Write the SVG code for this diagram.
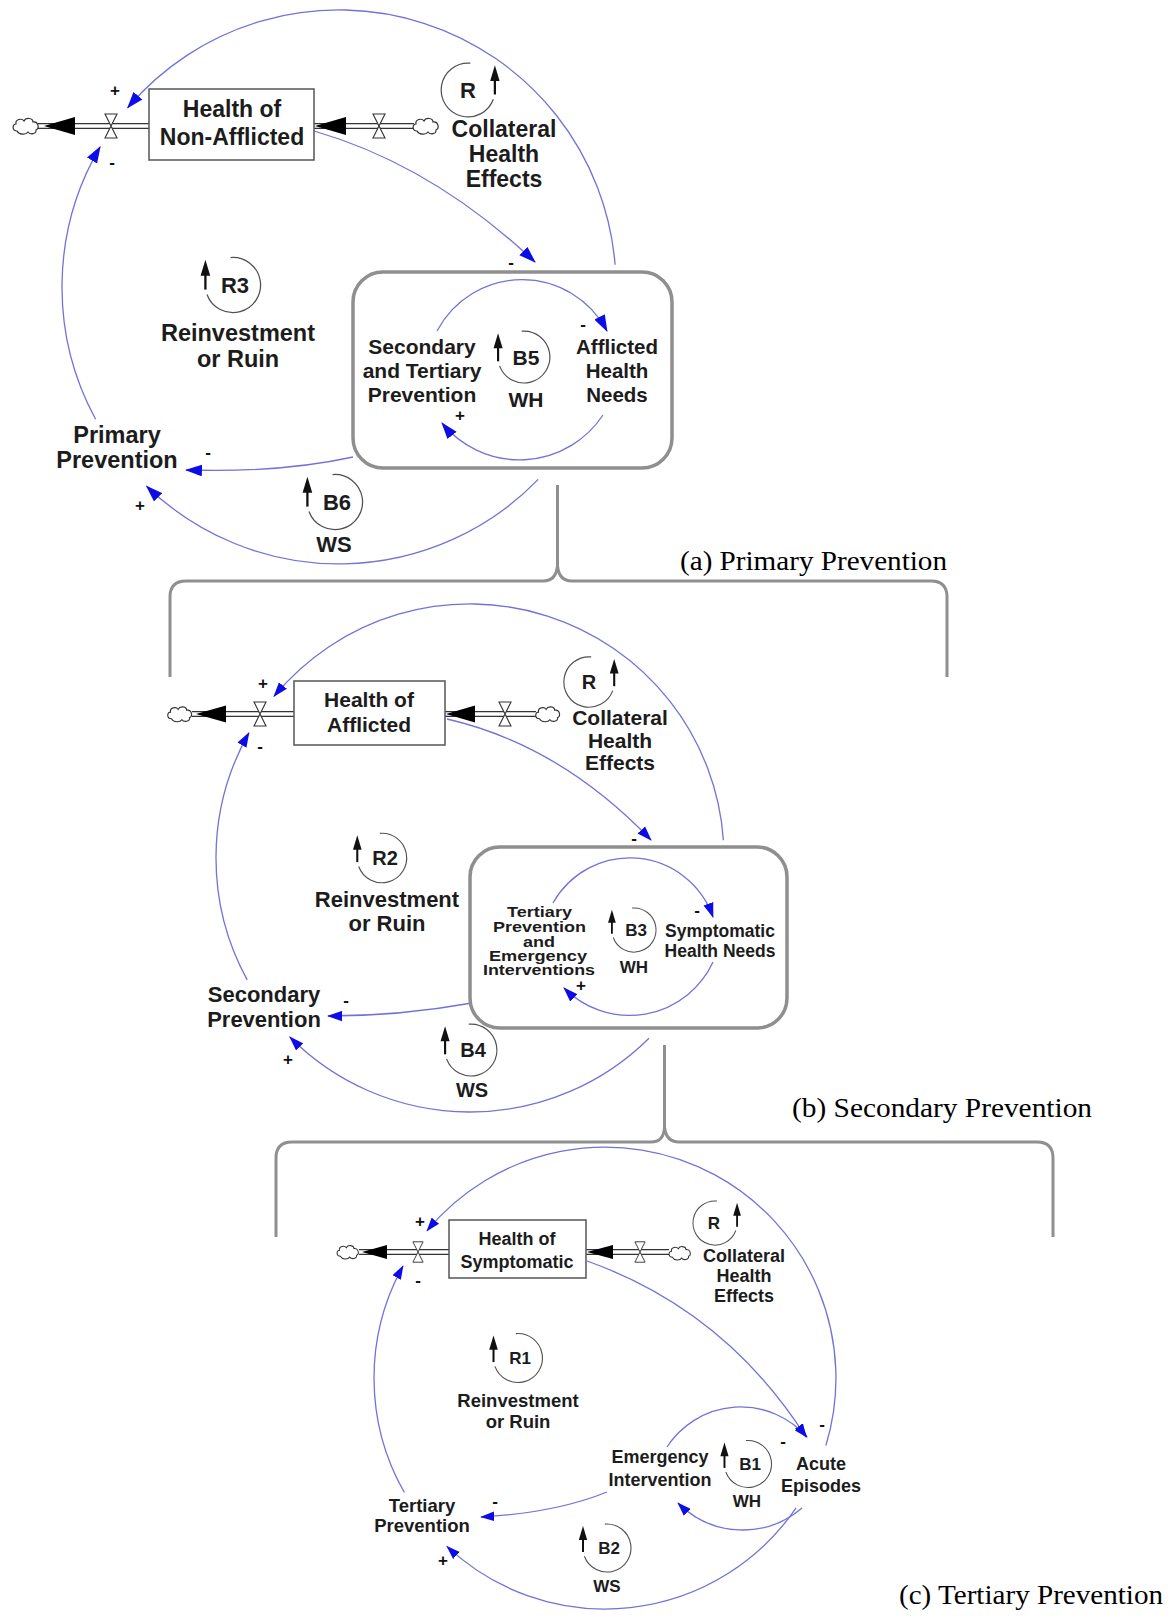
<svg xmlns="http://www.w3.org/2000/svg" xmlns:xlink="http://www.w3.org/1999/xlink" width="1173" height="1621" viewBox="0 0 1173 1621">
  <defs>
    <style>
      .lbl { font-family: "Liberation Sans", Arial, sans-serif; font-weight: bold; fill: #1c1c1c; text-anchor: middle; }
      .pol { font-family: "Liberation Sans", Arial, sans-serif; font-weight: bold; fill: #111; text-anchor: middle; font-size: 17px; }
      .cap { font-family: "Liberation Serif", "Times New Roman", serif; font-size: 28px; fill: #000; }
      .link { fill: none; stroke: #7272d8; stroke-width: 1.3; }
      .loop { fill: none; stroke: #505050; stroke-width: 1.1; }
      .frame { fill: none; stroke: #8f8f8f; stroke-width: 3.5; }
      .brace { fill: none; stroke: #8f8f8f; stroke-width: 3; }
      .stock { fill: #fff; stroke: #555; stroke-width: 1.5; }
      .pipeO { fill: none; stroke: #333; stroke-width: 6; }
      .pipeI { fill: none; stroke: #fff; stroke-width: 3.4; }
      .flowhead { fill: #000; }
    </style>
    <!-- blue link arrowheads, three sizes (one per panel) -->
    <marker id="ahA" viewBox="0 0 16 11" refX="15" refY="5.5" markerWidth="17" markerHeight="12" markerUnits="userSpaceOnUse" orient="auto">
      <path d="M0 0 L16 5.5 L0 11 Z" fill="#0c0ce6"/>
    </marker>
    <marker id="ahB" viewBox="0 0 16 11" refX="15" refY="5.5" markerWidth="15" markerHeight="11" markerUnits="userSpaceOnUse" orient="auto">
      <path d="M0 0 L16 5.5 L0 11 Z" fill="#0c0ce6"/>
    </marker>
    <marker id="ahC" viewBox="0 0 16 11" refX="15" refY="5.5" markerWidth="14" markerHeight="10" markerUnits="userSpaceOnUse" orient="auto">
      <path d="M0 0 L16 5.5 L0 11 Z" fill="#0c0ce6"/>
    </marker>
    <!-- source / sink cloud -->
    <path id="cloud" d="M-9 5 C-14 5 -14 -2 -10 -2 C-11 -7 -4 -8 -2 -5 C0 -9 7 -8 7 -4 C12 -5 14 2 10 4 C11 8 4 9 2 6 C0 9 -7 9 -9 5 Z" fill="#fff" stroke="#333" stroke-width="1.2"/>
    <!-- flow valve (hourglass) -->
    <path id="valve" d="M-6 -12 H6 L-6 12 H6 Z" fill="#fff" stroke="#333" stroke-width="1.1"/>
    <!-- loop marker, arrow on the left -->
    <g id="loopL">
      <path class="loop" d="M-2.1 -23.9 A24 24 0 1 1 -22.6 8.2"/>
      <path d="M-24 4 V-9" stroke="#111" stroke-width="2"/>
      <path d="M-24 -22 L-28.2 -8 L-19.8 -8 Z" fill="#111"/>
    </g>
    <!-- loop marker, arrow on the right -->
    <g id="loopR">
      <use xlink:href="#loopL" transform="scale(-1,1)"/>
    </g>
  </defs>

  <rect x="0" y="0" width="1173" height="1621" fill="#fff"/>

  <!-- ===================== connectors ===================== -->
  <g id="connectors">
    <!-- panel (a) -->
    <path class="link" d="M615.1 264.8 A277 277 0 0 0 127.7 107.8" marker-end="url(#ahA)"/>
    <path class="link" d="M95.6 419.2 A277 277 0 0 1 100.1 146.8" marker-end="url(#ahA)"/>
    <path class="link" d="M538.2 479.4 A277 277 0 0 1 146.6 486.2" marker-end="url(#ahA)"/>
    <path class="link" d="M314 131 Q432 165 535 262" marker-end="url(#ahA)"/>
    <path class="link" d="M353 457 Q280 473 186 470" marker-end="url(#ahA)"/>
    <path class="link" d="M437 331 A96 96 0 0 1 607 331" marker-end="url(#ahA)"/>
    <path class="link" d="M603 415 A100 100 0 0 1 442 423" marker-end="url(#ahA)"/>

    <!-- panel (b) -->
    <path class="link" d="M723.4 840.3 A254 254 0 0 0 274.0 696.4" marker-end="url(#ahB)"/>
    <path class="link" d="M247.2 979.9 A254 254 0 0 1 248.9 732.9" marker-end="url(#ahB)"/>
    <path class="link" d="M649 1038.2 A254 254 0 0 1 289.8 1037" marker-end="url(#ahB)"/>
    <path class="link" d="M447 719 Q560 745 651 840" marker-end="url(#ahB)"/>
    <path class="link" d="M472 1003 Q400 1016 328 1016" marker-end="url(#ahB)"/>
    <path class="link" d="M553 903 A88 88 0 0 1 713 917" marker-end="url(#ahB)"/>
    <path class="link" d="M713 962 A92 92 0 0 1 564 988" marker-end="url(#ahB)"/>

    <!-- panel (c) -->
    <path class="link" d="M825.9 1445.5 A231 231 0 0 0 427.0 1230.8" marker-end="url(#ahC)"/>
    <path class="link" d="M404.4 1492.5 A231 231 0 0 1 403.0 1266.0" marker-end="url(#ahC)"/>
    <path class="link" d="M796.1 1507.8 A231 231 0 0 1 446.9 1546.4" marker-end="url(#ahC)"/>
    <path class="link" d="M587 1261 Q725 1310 806 1437" marker-end="url(#ahC)"/>
    <path class="link" d="M667 1447 A88 88 0 0 1 807 1437" marker-end="url(#ahC)"/>
    <path class="link" d="M802 1508 A91 91 0 0 1 678 1503" marker-end="url(#ahC)"/>
    <path class="link" d="M607 1492 Q555 1513 481 1517" marker-end="url(#ahC)"/>
  </g>

  <!-- ===================== panel (a): primary prevention ===================== -->
  <g id="a-outflow">
    <path class="pipeO" d="M38 126 H149"/>
    <path class="pipeI" d="M38 126 H149"/>
    <polygon class="flowhead" points="44,126 75,117 75,135"/>
    <use xlink:href="#cloud" transform="translate(26,126)"/>
    <use xlink:href="#valve" transform="translate(111,126)"/>
  </g>
  <g id="a-inflow">
    <path class="pipeO" d="M314 126 H414"/>
    <path class="pipeI" d="M314 126 H414"/>
    <polygon class="flowhead" points="315,126 346,117 346,135"/>
    <use xlink:href="#valve" transform="translate(379,126)"/>
    <use xlink:href="#cloud" transform="translate(426,126)"/>
  </g>
  <g id="a-health-non-afflicted">
    <rect class="stock" x="149" y="89" width="165" height="71"/>
    <text class="lbl" font-size="23"><tspan x="232" y="117">Health of</tspan><tspan x="232" y="145">Non-Afflicted</tspan></text>
  </g>
  <g id="a-collateral">
    <text class="lbl" font-size="23"><tspan x="504" y="137">Collateral</tspan><tspan x="504" y="162">Health</tspan><tspan x="504" y="187">Effects</tspan></text>
  </g>
  <g id="a-loop-r">
    <use xlink:href="#loopR" transform="translate(468,90) scale(1.12)"/>
    <text class="lbl" font-size="22" x="468" y="98">R</text>
  </g>
  <g id="a-loop-r3">
    <use xlink:href="#loopL" transform="translate(233,285) scale(1.15)"/>
    <text class="lbl" font-size="22" x="235" y="293">R3</text>
    <text class="lbl" font-size="23.5"><tspan x="238" y="341">Reinvestment</tspan><tspan x="238" y="367">or Ruin</tspan></text>
  </g>
  <g id="a-afflicted-box">
    <rect class="frame" x="353" y="272" width="319" height="196" rx="30"/>
  </g>
  <g id="a-secondary-tertiary">
    <text class="lbl" font-size="21"><tspan x="422" y="354">Secondary</tspan><tspan x="422" y="378">and Tertiary</tspan><tspan x="422" y="402">Prevention</tspan></text>
  </g>
  <g id="a-afflicted-needs">
    <text class="lbl" font-size="20.5"><tspan x="617" y="354">Afflicted</tspan><tspan x="617" y="378">Health</tspan><tspan x="617" y="402">Needs</tspan></text>
  </g>
  <g id="a-loop-b5">
    <use xlink:href="#loopL" transform="translate(524,357) scale(1.08)"/>
    <text class="lbl" font-size="21" x="526" y="365">B5</text>
    <text class="lbl" font-size="21" x="526" y="407">WH</text>
  </g>
  <g id="a-primary-prevention">
    <text class="lbl" font-size="23.5"><tspan x="117" y="443">Primary</tspan><tspan x="117" y="468">Prevention</tspan></text>
  </g>
  <g id="a-loop-b6">
    <use xlink:href="#loopL" transform="translate(335,502) scale(1.15)"/>
    <text class="lbl" font-size="22" x="337" y="510">B6</text>
    <text class="lbl" font-size="22" x="334" y="552">WS</text>
  </g>
  <g id="a-signs">
    <text class="pol" x="115" y="96">+</text>
    <text class="pol" x="112" y="168">-</text>
    <text class="pol" x="511" y="268">-</text>
    <text class="pol" x="583" y="330">-</text>
    <text class="pol" x="460" y="421">+</text>
    <text class="pol" x="208" y="458">-</text>
    <text class="pol" x="140" y="511">+</text>
  </g>

  <!-- brace linking (a) to (b) -->
  <g id="brace-ab">
    <path class="brace" d="M170 677 V597 Q170 581 186 581 H543 Q556 581 557.5 566 V485"/>
    <path class="brace" d="M557.5 566 Q559 581 572 581 H931 Q947 581 947 597 V677"/>
  </g>
  <text class="cap" x="680" y="570" textLength="267" lengthAdjust="spacingAndGlyphs">(a) Primary Prevention</text>

  <!-- ===================== panel (b): secondary prevention ===================== -->
  <g id="b-outflow">
    <path class="pipeO" d="M192 714 H294"/>
    <path class="pipeI" d="M192 714 H294"/>
    <polygon class="flowhead" points="196,714 226,705.5 226,722.5"/>
    <use xlink:href="#cloud" transform="translate(180,714) scale(0.95)"/>
    <use xlink:href="#valve" transform="translate(260,714)"/>
  </g>
  <g id="b-inflow">
    <path class="pipeO" d="M445 714 H536"/>
    <path class="pipeI" d="M445 714 H536"/>
    <polygon class="flowhead" points="446,714 475,705.5 475,722.5"/>
    <use xlink:href="#valve" transform="translate(505,714)"/>
    <use xlink:href="#cloud" transform="translate(548,714) scale(0.95)"/>
  </g>
  <g id="b-health-afflicted">
    <rect class="stock" x="294" y="681" width="151" height="64"/>
    <text class="lbl" font-size="21"><tspan x="369" y="707">Health of</tspan><tspan x="369" y="732">Afflicted</tspan></text>
  </g>
  <g id="b-collateral">
    <text class="lbl" font-size="21"><tspan x="620" y="725">Collateral</tspan><tspan x="620" y="748">Health</tspan><tspan x="620" y="770">Effects</tspan></text>
  </g>
  <g id="b-loop-r">
    <use xlink:href="#loopR" transform="translate(589,682) scale(1.05)"/>
    <text class="lbl" font-size="20" x="589" y="689">R</text>
  </g>
  <g id="b-loop-r2">
    <use xlink:href="#loopL" transform="translate(382,858) scale(1.03)"/>
    <text class="lbl" font-size="20" x="385" y="865">R2</text>
    <text class="lbl" font-size="22"><tspan x="387" y="907">Reinvestment</tspan><tspan x="387" y="931">or Ruin</tspan></text>
  </g>
  <g id="b-symptomatic-box">
    <rect class="frame" x="470" y="847" width="317" height="181" rx="30"/>
  </g>
  <g id="b-tertiary-emergency">
    <text class="lbl" font-size="15">
      <tspan x="507" y="917" text-anchor="start" textLength="65" lengthAdjust="spacingAndGlyphs">Tertiary</tspan>
      <tspan x="493" y="932" text-anchor="start" textLength="93" lengthAdjust="spacingAndGlyphs">Prevention</tspan>
      <tspan x="523" y="947" text-anchor="start" textLength="32" lengthAdjust="spacingAndGlyphs">and</tspan>
      <tspan x="489" y="961" text-anchor="start" textLength="98" lengthAdjust="spacingAndGlyphs">Emergency</tspan>
      <tspan x="483" y="975" text-anchor="start" textLength="112" lengthAdjust="spacingAndGlyphs">Interventions</tspan>
    </text>
  </g>
  <g id="b-symptomatic-needs">
    <text class="lbl" font-size="17.5"><tspan x="720" y="937">Symptomatic</tspan><tspan x="720" y="957">Health Needs</tspan></text>
  </g>
  <g id="b-loop-b3">
    <use xlink:href="#loopL" transform="translate(634,930) scale(0.92)"/>
    <text class="lbl" font-size="17" x="636" y="936">B3</text>
    <text class="lbl" font-size="17" x="634" y="973">WH</text>
  </g>
  <g id="b-secondary-prevention">
    <text class="lbl" font-size="22"><tspan x="264" y="1002">Secondary</tspan><tspan x="264" y="1027">Prevention</tspan></text>
  </g>
  <g id="b-loop-b4">
    <use xlink:href="#loopL" transform="translate(471,1050) scale(1.08)"/>
    <text class="lbl" font-size="20" x="473" y="1057">B4</text>
    <text class="lbl" font-size="20" x="472" y="1097">WS</text>
  </g>
  <g id="b-signs">
    <text class="pol" x="263" y="689">+</text>
    <text class="pol" x="260" y="752">-</text>
    <text class="pol" x="634" y="844">-</text>
    <text class="pol" x="697" y="916">-</text>
    <text class="pol" x="581" y="991">+</text>
    <text class="pol" x="346" y="1006">-</text>
    <text class="pol" x="288" y="1065">+</text>
  </g>

  <!-- brace linking (b) to (c) -->
  <g id="brace-bc">
    <path class="brace" d="M276 1237 V1158 Q276 1142 292 1142 H651 Q664 1142 664.5 1127 V1045"/>
    <path class="brace" d="M664.5 1127 Q666 1142 679 1142 H1037 Q1053 1142 1053 1158 V1237"/>
  </g>
  <text class="cap" x="792" y="1117" textLength="300" lengthAdjust="spacingAndGlyphs">(b) Secondary Prevention</text>

  <!-- ===================== panel (c): tertiary prevention ===================== -->
  <g id="c-outflow">
    <path class="pipeO" d="M359 1252 H449"/>
    <path class="pipeI" d="M359 1252 H449"/>
    <polygon class="flowhead" points="362,1252 387,1245 387,1259"/>
    <use xlink:href="#cloud" transform="translate(348,1252) scale(0.85)"/>
    <use xlink:href="#valve" transform="translate(418,1252) scale(0.85)"/>
  </g>
  <g id="c-inflow">
    <path class="pipeO" d="M586 1252 H669"/>
    <path class="pipeI" d="M586 1252 H669"/>
    <polygon class="flowhead" points="587,1252 613,1245 613,1259"/>
    <use xlink:href="#valve" transform="translate(640,1252) scale(0.85)"/>
    <use xlink:href="#cloud" transform="translate(680,1253) scale(0.85)"/>
  </g>
  <g id="c-health-symptomatic">
    <rect class="stock" x="449" y="1220" width="137" height="58"/>
    <text class="lbl" font-size="18"><tspan x="517" y="1245">Health of</tspan><tspan x="517" y="1268">Symptomatic</tspan></text>
  </g>
  <g id="c-collateral">
    <text class="lbl" font-size="18"><tspan x="744" y="1262">Collateral</tspan><tspan x="744" y="1282">Health</tspan><tspan x="744" y="1302">Effects</tspan></text>
  </g>
  <g id="c-loop-r">
    <use xlink:href="#loopR" transform="translate(715,1223) scale(0.92)"/>
    <text class="lbl" font-size="17" x="714" y="1229">R</text>
  </g>
  <g id="c-loop-r1">
    <use xlink:href="#loopL" transform="translate(518,1358) scale(1.02)"/>
    <text class="lbl" font-size="17" x="520" y="1364">R1</text>
    <text class="lbl" font-size="18.5"><tspan x="518" y="1407">Reinvestment</tspan><tspan x="518" y="1428">or Ruin</tspan></text>
  </g>
  <g id="c-emergency">
    <text class="lbl" font-size="18"><tspan x="660" y="1463">Emergency</tspan><tspan x="660" y="1486">Intervention</tspan></text>
  </g>
  <g id="c-acute">
    <text class="lbl" font-size="18"><tspan x="821" y="1470">Acute</tspan><tspan x="821" y="1492">Episodes</tspan></text>
  </g>
  <g id="c-loop-b1">
    <use xlink:href="#loopL" transform="translate(748,1464) scale(0.98)"/>
    <text class="lbl" font-size="17" x="750" y="1470">B1</text>
    <text class="lbl" font-size="17" x="747" y="1507">WH</text>
  </g>
  <g id="c-tertiary-prevention">
    <text class="lbl" font-size="18.5"><tspan x="422" y="1512">Tertiary</tspan><tspan x="422" y="1532">Prevention</tspan></text>
  </g>
  <g id="c-loop-b2">
    <use xlink:href="#loopL" transform="translate(607,1548) scale(1.0)"/>
    <text class="lbl" font-size="17" x="609" y="1554">B2</text>
    <text class="lbl" font-size="17" x="607" y="1592">WS</text>
  </g>
  <g id="c-signs">
    <text class="pol" x="420" y="1227">+</text>
    <text class="pol" x="418" y="1286">-</text>
    <text class="pol" x="822" y="1430">-</text>
    <text class="pol" x="783" y="1447">-</text>
    <text class="pol" x="495" y="1507">-</text>
    <text class="pol" x="443" y="1566">+</text>
  </g>
  <text class="cap" x="899" y="1604" textLength="264" lengthAdjust="spacingAndGlyphs">(c) Tertiary Prevention</text>
</svg>
